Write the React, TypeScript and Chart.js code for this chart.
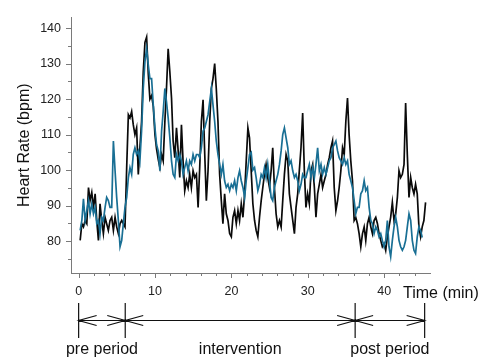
import React, { useEffect, useRef } from "react";
import { Chart, registerables } from "chart.js";

Chart.register(...registerables);

// Time axis (minutes) for each sample
const TIME_MIN = [
  0.20,0.42,0.63,0.85,1.07,1.29,1.50,1.72,1.94,2.16,
  2.37,2.59,2.80,3.02,3.24,3.46,3.67,3.89,4.11,4.33,
  4.55,4.77,4.98,5.20,5.42,5.64,5.85,6.07,6.29,6.51,
  6.72,6.94,7.15,7.37,7.59,7.81,8.02,8.24,8.46,8.68,
  8.90,9.12,9.33,9.55,9.77,9.99,10.20,10.42,10.64,10.86,
  11.07,11.29,11.50,11.72,11.94,12.16,12.37,12.59,12.81,13.03,
  13.24,13.46,13.67,13.89,14.11,14.33,14.54,14.76,14.98,15.20,
  15.42,15.64,15.85,16.07,16.29,16.51,16.72,16.94,17.16,17.38,
  17.59,17.81,18.02,18.24,18.46,18.68,18.89,19.11,19.33,19.55,
  19.77,19.99,20.20,20.42,20.64,20.86,21.07,21.29,21.51,21.73,
  21.94,22.16,22.37,22.59,22.81,23.03,23.24,23.46,23.68,23.90,
  24.11,24.33,24.54,24.76,24.98,25.20,25.41,25.63,25.85,26.07,
  26.29,26.51,26.72,26.94,27.16,27.38,27.59,27.81,28.03,28.25,
  28.46,28.68,28.89,29.11,29.33,29.55,29.76,29.98,30.20,30.42,
  30.64,30.86,31.07,31.29,31.51,31.73,31.94,32.16,32.38,32.60,
  32.81,33.03,33.24,33.46,33.68,33.90,34.11,34.33,34.55,34.77,
  34.98,35.20,35.41,35.63,35.85,36.07,36.28,36.50,36.72,36.94,
  37.16,37.38,37.59,37.81,38.03,38.25,38.46,38.68,38.90,39.12,
  39.33,39.55,39.76,39.98,40.20,40.42,40.63,40.85,41.07,41.29,
  41.51,41.73,41.94,42.16,42.38,42.60,42.81,43.03,43.25,43.47,
  43.68,43.90,44.11,44.33,44.55,44.77,44.98,45.20,45.42,
];

// Heart rate, black trace (bpm)
const HR_BLACK = [
  80.2,84.9,84,85.8,84.9,95.1,91.4,93.7,89.5,93.3,
  85.8,80.2,90.5,85.8,82.1,86.7,84.9,83,85.8,86.7,
  83,86.7,84,82.1,84.9,85.8,84.9,84,100.7,115.6,
  114.7,116.5,112.8,110,111.9,98.8,106.3,113.7,127.7,136,
  137.5,127,120,121,118,110,106,103,100.7,104.4,
  102.6,113.7,123,134.2,127.7,120.3,108.2,103.5,111.9,105.4,
  97.9,112.8,102.6,94.2,97,95.1,98.8,95.1,99.8,97.9,
  98.8,89.5,100.7,113.7,119.8,104.4,91.4,99.8,113.7,123,
  125.8,130,123,113.7,98.8,91.4,84.9,93.3,87.7,85.8,
  82.1,81.2,86.7,88.6,84.9,88.6,85.8,90.5,86.7,93.3,
  102.6,111.9,109.1,99.8,90.5,85.8,83,81.2,86.7,91.4,
  95.1,98.8,101.6,97.9,95.1,99.8,106.3,95.1,87.7,84,
  85.8,84,91.4,98.8,104.4,102.6,93.3,89.5,85.8,82.1,
  89.5,93.3,99.8,106.3,116.1,99.8,89.5,93.3,90.5,99.8,
  101.6,95.1,86.7,93.3,96,98.8,95.1,97,98.8,101.6,
  103.5,106.3,108.2,95.1,88.6,91.4,95.1,99.8,106.3,104.4,
  113.7,120.3,110,102.6,97,85.8,86.7,84.9,82.1,78.4,
  82.1,84,80.2,84.9,86.7,84,82.1,85.8,86.7,84.9,
  82.1,80.2,78.4,79.3,77.4,81.2,84,86.7,90.9,85.8,
  87.7,92.3,99.8,97.9,98.8,101.6,118.9,104.4,92.3,97.9,
  95.1,93.3,96,93.3,84,81.2,84,85.8,90.9,
];

// Heart rate, teal trace (bpm)
const HR_TEAL = [
  83,85.8,91.9,85.8,88.6,91.4,87.7,90.5,87.7,89.5,
  84.9,85.8,82.1,86.7,85.8,89.5,92.3,91.4,89.5,89.5,
  108.2,99.8,92.3,85.8,78.4,80.2,84.9,89.5,92.3,97.9,
  100.7,98.8,104.4,106.3,104.4,105.4,102.6,111,123,130.5,
  134.2,129.6,125.8,125.8,118.4,111.9,107.2,105.4,99.8,111,
  116.5,123,119.3,114.7,109.1,102.6,98.8,97.9,104.4,102.6,
  104.4,102.6,98.8,100.7,102.6,99.8,102.6,101.6,104.4,102.6,
  104.4,104.4,103.5,106.3,111,111.9,113.7,115.6,119.3,123,
  118.4,113.7,108.2,104.4,101.6,98.8,101.6,97,95.1,96,
  94.2,96,95.1,97,94.2,97.9,99.8,97,95.1,92.3,
  97,100.7,104.4,105,100,100.7,97.9,94.2,96,98.8,
  97.9,100.7,97.9,101.6,97,92.3,91.4,95.1,97,98.8,
  101.6,105.4,110,111.9,109.1,106.3,101.6,102.6,99.8,97.9,
  98.8,97,94.2,96,98.8,97.9,97.9,99.8,101.6,97.9,
  100.7,97.9,101.6,106.3,99.8,101.6,98.8,100.7,98.8,100.7,
  102.6,103.5,106.3,107.2,108.2,105.4,103.5,102.6,101.6,103.5,
  101.6,102.6,98.8,97,95.1,91.4,87.7,89.5,89.5,93.3,
  94.2,97,94.2,95.1,89.5,85.8,84.9,82.1,84,83,
  81.2,82.1,80.2,78.4,80.2,85.8,78.4,75.6,80.2,84,
  86.7,84,80.2,78.4,77.4,78.4,80.2,84,87.7,85.8,
  80.2,77.4,76.5,81.2,84,83,81,
];

const X_MAJOR_TICKS = [0, 10, 20, 30, 40];
const X_MINOR_TICKS = [2, 4, 6, 8, 12, 14, 16, 18, 22, 24, 26, 28, 32, 34, 36, 38, 42, 44];
const Y_MAJOR_TICKS = [80, 90, 100, 110, 120, 130, 140];
const Y_MINOR_TICKS = [75, 85, 95, 105, 115, 125, 135];

const PERIOD_BOUNDS = [0, 6.1, 36.2, 45.3];
const PERIOD_LABELS = ["pre period", "intervention", "post period"];

const Y_TITLE = "Heart Rate (bpm)";
const X_TITLE = "Time (min)";

const FONT = "Arial, 'Liberation Sans', Helvetica, sans-serif";

const decorPlugin = {
  id: "decor",
  afterDraw(chart: any) {
    const ctx = chart.ctx as CanvasRenderingContext2D;
    const xs = chart.scales.x;
    const ys = chart.scales.y;
    const area = chart.chartArea;
    ctx.save();
    ctx.strokeStyle = "#7a7a7a";
    ctx.lineWidth = 1;
    ctx.beginPath();
    const bottom = area.bottom;
    const left = area.left;
    X_MAJOR_TICKS.forEach((v) => {
      const px = Math.round(xs.getPixelForValue(v)) + 0.5;
      ctx.moveTo(px, bottom);
      ctx.lineTo(px, bottom + 5);
    });
    X_MINOR_TICKS.forEach((v) => {
      const px = Math.round(xs.getPixelForValue(v)) + 0.5;
      ctx.moveTo(px, bottom);
      ctx.lineTo(px, bottom + 3);
    });
    Y_MAJOR_TICKS.forEach((v) => {
      const py = Math.round(ys.getPixelForValue(v)) + 0.5;
      ctx.moveTo(left, py);
      ctx.lineTo(left - 5, py);
    });
    Y_MINOR_TICKS.forEach((v) => {
      const py = Math.round(ys.getPixelForValue(v)) + 0.5;
      ctx.moveTo(left, py);
      ctx.lineTo(left - 3, py);
    });
    ctx.stroke();

    ctx.fillStyle = "#111";
    ctx.font = `16px ${FONT}`;
    ctx.textAlign = "center";
    ctx.textBaseline = "middle";
    ctx.save();
    ctx.translate(25, (area.top + area.bottom) / 2);
    ctx.rotate(-Math.PI / 2);
    ctx.fillText(Y_TITLE, 0, 0);
    ctx.restore();
    ctx.textAlign = "left";
    ctx.fillText(X_TITLE, 403, 294);

    const bx = PERIOD_BOUNDS.map((v) => xs.getPixelForValue(v));
    const yLine = 320.5;
    const yTop = 303;
    const yBot = 338;
    const aLen = 18;
    const aHalf = 5;
    ctx.strokeStyle = "#111";
    ctx.lineWidth = 1.2;
    ctx.beginPath();
    bx.forEach((px) => {
      ctx.moveTo(px, yTop);
      ctx.lineTo(px, yBot);
    });
    ctx.moveTo(bx[0], yLine);
    ctx.lineTo(bx[bx.length - 1], yLine);
    for (let i = 0; i < bx.length - 1; i++) {
      const a = bx[i];
      const b = bx[i + 1];
      ctx.moveTo(a + aLen, yLine - aHalf);
      ctx.lineTo(a, yLine);
      ctx.lineTo(a + aLen, yLine + aHalf);
      ctx.moveTo(b - aLen, yLine - aHalf);
      ctx.lineTo(b, yLine);
      ctx.lineTo(b - aLen, yLine + aHalf);
    }
    ctx.stroke();

    ctx.fillStyle = "#111";
    ctx.font = `16px ${FONT}`;
    ctx.textAlign = "center";
    ctx.textBaseline = "middle";
    const labelCenters = [
      (bx[0] + bx[1]) / 2,
      (bx[1] + bx[2]) / 2,
      (bx[2] + bx[3]) / 2,
    ];
    PERIOD_LABELS.forEach((lab, i) => {
      ctx.fillText(lab, labelCenters[i], 350);
    });
    ctx.restore();
  },
};

export default function App() {
  const ref = useRef<HTMLCanvasElement | null>(null);

  useEffect(() => {
    document.body.style.margin = "0";
    const canvas = ref.current;
    if (!canvas) return;
    const chart = new Chart(canvas, {
      type: "line",
      data: {
        datasets: [
          {
            label: "teal",
            data: HR_TEAL.map((v, i) => ({ x: TIME_MIN[i], y: v })),
            borderColor: "#196f94",
            borderWidth: 1.7,
            pointRadius: 0,
            tension: 0,
            fill: false,
          },
          {
            label: "black",
            data: HR_BLACK.map((v, i) => ({ x: TIME_MIN[i], y: v })),
            borderColor: "#0a0a0a",
            borderWidth: 1.7,
            pointRadius: 0,
            tension: 0,
            fill: false,
          },
        ],
      },
      options: {
        animation: false,
        responsive: false,
        maintainAspectRatio: false,
        layout: { padding: { top: 15, right: 50, left: 0, bottom: 0 } },
        plugins: {
          legend: { display: false },
          tooltip: { enabled: false },
          title: { display: false },
        },
        scales: {
          x: {
            type: "linear",
            min: -1,
            max: 46,
            grid: { display: false, drawTicks: false },
            border: { display: true, color: "#7a7a7a", width: 1 },
            afterBuildTicks: (s: any) => {
              s.ticks = X_MAJOR_TICKS.map((v) => ({ value: v }));
            },
            afterFit: (s: any) => {
              s.height = 88;
            },
            ticks: {
              padding: 11,
              color: "#222",
              font: { family: FONT, size: 12.5 },
              maxRotation: 0,
              callback: (v: any) => String(v),
            },
          },
          y: {
            type: "linear",
            min: 71,
            max: 143,
            grid: { display: false, drawTicks: false },
            border: { display: true, color: "#7a7a7a", width: 1 },
            afterBuildTicks: (s: any) => {
              s.ticks = Y_MAJOR_TICKS.map((v) => ({ value: v }));
            },
            afterFit: (s: any) => {
              s.width = 71;
            },
            ticks: {
              padding: 10,
              color: "#222",
              font: { family: FONT, size: 12.5 },
              callback: (v: any) => String(v),
            },
          },
        },
      },
      plugins: [decorPlugin],
    });
    return () => chart.destroy();
  }, []);

  return (
    <div style={{ position: "absolute", left: 0, top: 0, width: 480, height: 361, background: "#fff" }}>
      <canvas ref={ref} width={480} height={361} style={{ width: 480, height: 361, display: "block" }} />
    </div>
  );
}
